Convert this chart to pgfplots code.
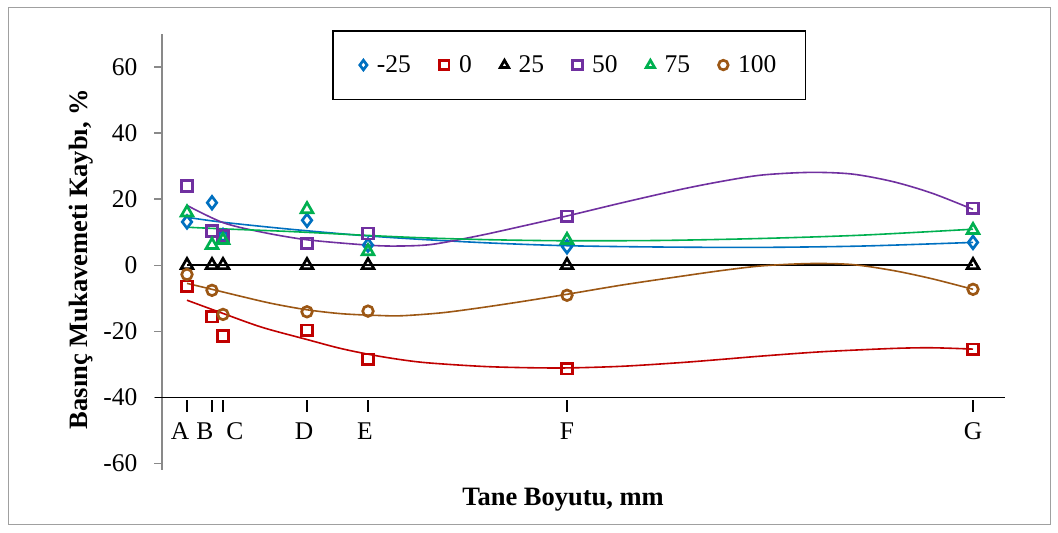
\documentclass[border=0pt]{standalone}
\usepackage{fontspec}
\setmainfont{Liberation Serif}
\usepackage{pgfplots}
\pgfplotsset{compat=1.18}

\definecolor{cBlue}{RGB}{0,112,192}
\definecolor{cRed}{RGB}{192,0,0}
\definecolor{cPurple}{RGB}{112,48,160}
\definecolor{cGreen}{RGB}{0,176,80}
\definecolor{cBrown}{RGB}{156,87,20}
\definecolor{axisgray}{RGB}{137,137,137}
\definecolor{framegray}{RGB}{160,160,160}

\newcommand{\tickfont}{\fontsize{25.5}{30}\selectfont}
\newcommand{\labfont}{\fontsize{26.5}{31}\selectfont\bfseries}

\pgfplotsset{
  meas/.style={only marks, mark options={solid, fill=none, line width=2.7pt}},
  trend/.style={no marks, smooth, line width=1.6pt, forget plot},
}

% tick mark and letter for one grain size position on the -40 line
\newcommand{\sizetick}[3]{%
  \draw[black, line width=1.2pt] (axis cs:#1,-40.9) -- (axis cs:#1,-44.5);
  \node[font=\tickfont] at (axis cs:#3,-50.2) {#2};
}

\begin{document}
\begin{tikzpicture}
\path[use as bounding box] (0pt,0pt) rectangle (1058pt,533pt);
\draw[framegray, line width=1pt] (8pt,8pt) rectangle (1050pt,525pt);

\node[rotate=90, font=\labfont] at (81pt,274pt) {Basınç Mukavemeti Kaybı, \%};
\node[font=\labfont] at (563pt,33pt) {Tane Boyutu, mm};

\begin{axis}[
  at={(162pt,63pt)}, anchor=south west,
  scale only axis, width=843pt, height=436pt,
  xmin=0, xmax=84.3, ymin=-62, ymax=70,
  axis x line=none, xtick=\empty,
  axis y line*=left,
  y axis line style={draw=axisgray, line width=1.3pt, -},
  ytick={-60,-40,...,60},
  tick align=outside,
  major tick length=8pt,
  ytick style={draw=axisgray, line width=1.3pt},
  yticklabel style={font=\tickfont, xshift=-13pt},
  /pgf/number format/assume math mode=true,
  clip=false,
  legend columns=6,
  legend style={
    at={(0.2017,1.009)}, anchor=north west,
    draw=black, line width=1.5pt,
    font=\tickfont,
    inner xsep=27pt, inner ysep=23pt,
    /tikz/every odd column/.append style={column sep=8pt},
    /tikz/every even column/.append style={column sep=26.5pt},
  },
  legend image code/.code={\draw[#1, mark size=4.8pt] plot coordinates {(0pt,0pt)};},
]

% horizontal reference axis at -40 with the grain size positions
\draw[black, line width=1.4pt] (axis cs:-0.7,-40) -- (axis cs:84.3,-40);
\sizetick{2.5}{A}{1.8}
\sizetick{5.0}{B}{4.3}
\sizetick{6.1}{C}{7.3}
\sizetick{14.5}{D}{14.2}
\sizetick{20.6}{E}{20.3}
\sizetick{40.5}{F}{40.5}
\sizetick{81.1}{G}{81.1}

% measured values
\addplot[meas, cBlue, mark=diamond, mark size=6.3pt] coordinates {
  (2.5,13.1) (5.0,18.9) (6.1,9.0) (14.5,13.6) (20.6,6.1) (40.5,5.6) (81.1,6.9)};
\addlegendentry{-25}
\addplot[meas, cRed, mark=square, mark size=5.4pt] coordinates {
  (2.5,-6.4) (5.0,-15.6) (6.1,-21.4) (14.5,-19.7) (20.6,-28.5) (40.5,-31.3) (81.1,-25.5)};
\addlegendentry{0}
\addplot[meas, black, mark=triangle, mark size=6.8pt] coordinates {
  (2.5,0) (5.0,0) (6.1,0) (14.5,0) (20.6,0) (40.5,0) (81.1,0)};
\addlegendentry{25}
\addplot[meas, cPurple, mark=square, mark size=5.4pt] coordinates {
  (2.5,24.0) (5.0,10.4) (6.1,8.9) (14.5,6.6) (20.6,9.6) (40.5,14.8) (81.1,17.2)};
\addlegendentry{50}
\addplot[meas, cGreen, mark=triangle, mark size=6.8pt] coordinates {
  (2.5,15.9) (5.0,6.1) (6.1,7.6) (14.5,16.9) (20.6,4.2) (40.5,7.6) (81.1,10.6)};
\addlegendentry{75}
\addplot[meas, cBrown, mark=o, mark size=5.3pt] coordinates {
  (2.5,-2.8) (5.0,-7.6) (6.1,-14.9) (14.5,-14.1) (20.6,-13.9) (40.5,-9.1) (81.1,-7.3)};
\addlegendentry{100}

% polynomial trend lines
\addplot[trend, cBlue] coordinates {
  (2.5,14.5) (6.1,13.0) (12.8,10.9) (20,9.0) (26,7.8) (33,6.7) (40.5,5.9)
  (50,5.5) (60,5.4) (70,5.8) (81.1,6.9)};
\addplot[trend, cRed] coordinates {
  (2.5,-10.6) (6.1,-14.6) (10,-18.8) (14.5,-22.5) (18,-25.3) (21.8,-27.6)
  (26,-29.4) (31.8,-30.6) (36,-31.0) (40.5,-31.1) (46,-30.6) (51.8,-29.5)
  (56,-28.5) (60,-27.5) (66,-26.2) (73.1,-25.2) (77,-25.0) (81.1,-25.4)};
\addplot[trend, black] coordinates {(2.5,0) (81.1,0)};
\addplot[trend, cPurple] coordinates {
  (2.5,18.1) (6.1,12.9) (10,10.0) (14.5,7.7) (20.5,6.1) (23.5,5.8) (27,6.3)
  (31.8,9.0) (36,11.8) (40.5,14.9) (46,18.9) (51.8,22.9) (56,25.4) (60,27.3)
  (64.8,28.1) (69,27.6) (73.1,25.3) (77,21.8) (81.1,16.9)};
\addplot[trend, cGreen] coordinates {
  (2.5,11.5) (6.1,11.0) (12.8,10.2) (20,9.1) (26,8.3) (33,7.7) (40.5,7.4)
  (50,7.5) (60,8.1) (70,9.1) (81.1,10.9)};
\addplot[trend, cBrown] coordinates {
  (2.5,-5.5) (5,-7.3) (8,-9.5) (11,-11.6) (14.5,-13.5) (18,-14.7) (21.5,-15.2)
  (24,-15.3) (28,-14.4) (31.8,-12.9) (36,-11.0) (40.5,-8.8) (46,-6.0)
  (51.8,-3.4) (56,-1.6) (60,-0.2) (64.8,0.5) (69,0.2) (73.1,-1.6) (77,-4.1)
  (81.1,-7.3)};
\end{axis}
\end{tikzpicture}
\end{document}
